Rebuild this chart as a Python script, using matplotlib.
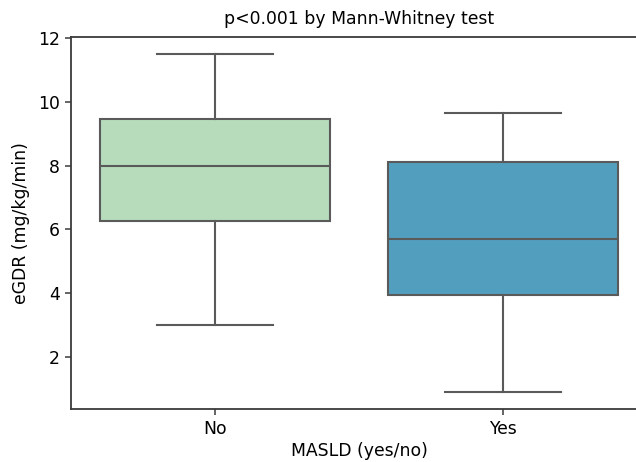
import numpy as np
import matplotlib
matplotlib.use("Agg")
import matplotlib.pyplot as plt

# MASLD groups and box statistics (eGDR, mg/kg/min)
groups = ["No", "Yes"]
whisker_low = [3.0, 0.9]
q1 = [6.25, 3.95]
median = [8.0, 5.7]
q3 = [9.45, 8.1]
whisker_high = [11.5, 9.65]

box_colors = ["#b7dcbc", "#529ebf"]
line_color = "#5a5a5a"
spine_color = "#3a3a3a"

stats = []
for i in range(len(groups)):
    stats.append({
        "label": groups[i],
        "whislo": whisker_low[i],
        "q1": q1[i],
        "med": median[i],
        "q3": q3[i],
        "whishi": whisker_high[i],
        "fliers": [],
    })

fig = plt.figure(figsize=(6.36, 4.62), dpi=100)
ax = fig.add_axes([71/636, 1 - 409/462, 576/636, (409 - 37)/462])

line_kw = dict(color=line_color, linewidth=1.5)
bp = ax.bxp(stats, positions=np.arange(len(groups)), widths=0.8, patch_artist=True,
            showfliers=False,
            boxprops=dict(edgecolor=line_color, linewidth=1.5),
            medianprops=line_kw, whiskerprops=line_kw, capprops=line_kw)
for patch, c in zip(bp["boxes"], box_colors):
    patch.set_facecolor(c)

ax.set_xlim(-0.5, 1.5)
ax.set_ylim(0.37, 12.03)
ax.set_yticks([2, 4, 6, 8, 10, 12])
ax.set_xticks(np.arange(len(groups)))
ax.set_xticklabels(groups)
for sp in ax.spines.values():
    sp.set_color(spine_color)
    sp.set_linewidth(1.3)
ax.tick_params(labelsize=12.4, color=spine_color, width=1.1, length=4, pad=4)
ax.set_xlabel("MASLD (yes/no)", fontsize=12.4, labelpad=3)
ax.set_ylabel("eGDR (mg/kg/min)", fontsize=12.4, labelpad=6)
ax.set_title("p<0.001 by Mann-Whitney test", fontsize=12.4, pad=9)

fig.savefig("out.png", dpi=100)
